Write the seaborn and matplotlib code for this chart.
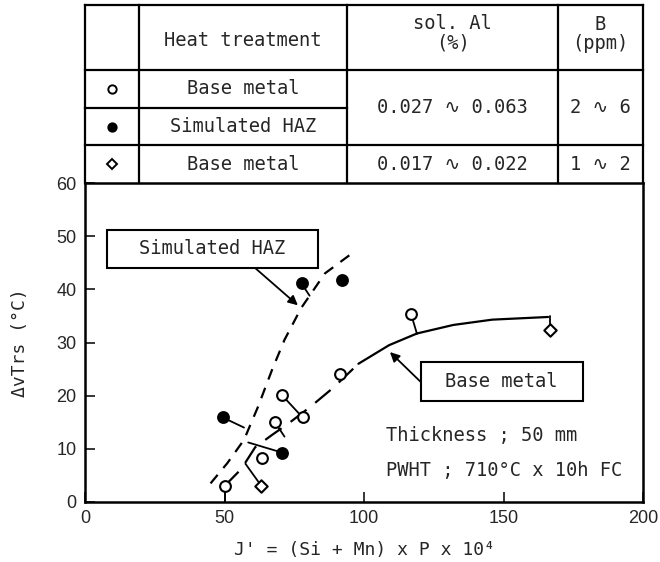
import matplotlib
matplotlib.use("Agg")
import matplotlib.pyplot as plt
from matplotlib.patches import Rectangle
import numpy as np
import pandas as pd
import seaborn as sns

# measured points (J', dvTrs)
base_open_x = [50.0, 63.5, 68.1, 70.6, 78.0, 91.4, 116.9]
base_open_y = [3.1, 8.3, 15.0, 20.1, 15.9, 24.1, 35.3]
haz_x = [49.4, 70.6, 77.6, 92.1]
haz_y = [15.9, 9.3, 41.1, 41.7]
base_dia_x = [63.1, 166.7]
base_dia_y = [3.1, 32.3]

# fitted curves
haz_curve_x = [45, 51, 57, 62, 67, 71.5, 77.5, 86, 95]
haz_curve_y = [3.5, 7.3, 11.7, 17.9, 24.8, 30.5, 36.5, 43.0, 46.5]
base_low_x = [50, 56, 61, 67, 73, 81, 89, 98]
base_low_y = [3.0, 6.2, 10.3, 12.6, 14.8, 18.0, 21.5, 26.0]
base_high_x = [98, 109, 119, 132, 146, 166]
base_high_y = [26.0, 29.5, 31.7, 33.3, 34.3, 34.8]

# leader lines from points to the curves: (x0, y0, x1, y1)
leaders = [
    (50.0, 3.1, 50.0, 0.0),
    (63.1, 3.1, 57.5, 7.2),
    (68.1, 15.0, 71.5, 12.3),
    (70.6, 20.1, 78.0, 15.9),
    (70.6, 9.3, 58.5, 11.2),
    (49.4, 15.9, 57.0, 14.0),
    (77.6, 41.1, 80.5, 38.8),
    (116.9, 35.3, 119.0, 31.6),
    (166.7, 32.3, 166.7, 35.0),
]

# table contents
col_heads = ["Heat treatment", "sol. Al\n(%)", "B\n(ppm)"]
row_treat = ["Base metal", "Simulated HAZ", "Base metal"]
al_ranges = ["0.027 \u223f 0.063", "0.017 \u223f 0.022"]
b_ranges = ["2 \u223f 6", "1 \u223f 2"]

sns.set_style("ticks")
mono = ["DejaVu Sans Mono", "DejaVu Sans"]
plt.rcParams["font.family"] = mono

W, H = 660, 562
fig = plt.figure(figsize=(W / 100, H / 100), dpi=100)

# ---- main plot
ax = fig.add_axes([85 / W, 60 / H, 558 / W, 319 / H])
lw = 1.6
sns.lineplot(x=haz_curve_x, y=haz_curve_y, ax=ax, color="black", lw=lw,
             linestyle=(0, (5, 4)), sort=False, estimator=None)
sns.lineplot(x=base_low_x, y=base_low_y, ax=ax, color="black", lw=lw,
             linestyle=(0, (9, 5)), sort=False, estimator=None)
sns.lineplot(x=base_high_x, y=base_high_y, ax=ax, color="black", lw=lw,
             sort=False, estimator=None)

for x0, y0, x1, y1 in leaders:
    ax.plot([x0, x1], [y0, y1], color="black", lw=1.3, zorder=2)

sns.scatterplot(x=base_open_x, y=base_open_y, ax=ax, marker="o", s=60,
                facecolor="white", edgecolor="black", linewidth=1.5, zorder=3)
sns.scatterplot(x=haz_x, y=haz_y, ax=ax, marker="o", s=60,
                color="black", edgecolor="black", linewidth=1.5, zorder=3)
sns.scatterplot(x=base_dia_x, y=base_dia_y, ax=ax, marker="D", s=40,
                facecolor="white", edgecolor="black", linewidth=1.5, zorder=3)

ax.set_xlim(0, 200)
ax.set_ylim(0, 60)
ax.set_xticks([0, 50, 100, 150, 200])
ax.set_yticks(range(0, 61, 10))
ax.tick_params(direction="in", length=7, width=1.3, labelsize=13, pad=6)
for lab in ax.get_xticklabels() + ax.get_yticklabels():
    lab.set_family("Liberation Sans")
for sp in ax.spines.values():
    sp.set_visible(True)
    sp.set_linewidth(1.8)
    sp.set_color("black")

ax.set_xlabel("J' = (Si + Mn) x P x 10\u2074", fontsize=13, labelpad=10)
ax.set_ylabel("\u0394vTrs (\u00b0C)", fontsize=13, labelpad=20)

arrow = dict(arrowstyle="-|>", color="black", lw=1.3, mutation_scale=14,
             shrinkA=0, shrinkB=0)
ax.add_patch(Rectangle((7.9, 44.0), 75.6, 7.2, fc="white", ec="black",
                       lw=1.5, zorder=4))
ax.text(45.5, 47.7, "Simulated HAZ", ha="center", va="center", fontsize=13.5,
        zorder=5)
ax.annotate("", xy=(76.3, 37.0), xytext=(61.0, 44.0), arrowprops=arrow)
ax.add_patch(Rectangle((120.3, 19.0), 58.1, 7.4, fc="white", ec="black",
                       lw=1.5, zorder=4))
ax.text(149.3, 22.7, "Base metal", ha="center", va="center", fontsize=13.5,
        zorder=5)
ax.annotate("", xy=(109.3, 28.2), xytext=(120.3, 22.6), arrowprops=arrow)

ax.text(108, 12.6, "Thickness ; 50 mm", ha="left", va="center", fontsize=13.5)
ax.text(108, 6.0, "PWHT ; 710\u00b0C x 10h FC", ha="left", va="center",
        fontsize=13.5)

# ---- table above the plot (pixel coordinates of the figure)
tab = fig.add_axes([85 / W, (H - 183) / H, 558 / W, 178 / H])
tab.set_xlim(85, 643)
tab.set_ylim(183, 5)
tab.axis("off")
c0, c1, c2, c3, c4 = 85, 139, 347, 558, 643
r0, r1, r2, r3, r4 = 5, 70, 108, 145, 183
tl = dict(color="black", lw=1.6, clip_on=False, solid_capstyle="projecting")
tab.plot([c0, c4], [r0, r0], **tl)
tab.plot([c0, c4], [r1, r1], **tl)
tab.plot([c0, c2], [r2, r2], **tl)
tab.plot([c0, c4], [r3, r3], **tl)
for cx in [c0, c1, c2, c3, c4]:
    tab.plot([cx, cx], [r0, r4], **tl)

fs = 13.5
mx = (c0 + c1) / 2
xt, xa, xb = (c1 + c2) / 2, (c2 + c3) / 2, (c3 + c4) / 2
tab.text(xt, 40, col_heads[0], ha="center", va="center", fontsize=fs)
tab.text(xa, 33, col_heads[1], ha="center", va="center", fontsize=fs,
         linespacing=1.05)
tab.text(xb, 34, col_heads[2], ha="center", va="center", fontsize=fs,
         linespacing=1.05)

row_y = [(r1 + r2) / 2, (r2 + r3) / 2, (r3 + r4) / 2]
for yy, name in zip(row_y, row_treat):
    tab.text(xt, yy, name, ha="center", va="center", fontsize=fs)
tab.plot([mx], [row_y[0]], marker="o", ms=6, mfc="white", mec="black", mew=1.4)
tab.plot([mx], [row_y[1]], marker="o", ms=6, mfc="black", mec="black", mew=1.4)
tab.plot([mx], [row_y[2]], marker="D", ms=5.5, mfc="white", mec="black", mew=1.4)

tab.text(xa, (r1 + r3) / 2, al_ranges[0], ha="center", va="center", fontsize=fs)
tab.text(xb, (r1 + r3) / 2, b_ranges[0], ha="center", va="center", fontsize=fs)
tab.text(xa, row_y[2], al_ranges[1], ha="center", va="center", fontsize=fs)
tab.text(xb, row_y[2], b_ranges[1], ha="center", va="center", fontsize=fs)

fig.savefig("out.png", dpi=100)
